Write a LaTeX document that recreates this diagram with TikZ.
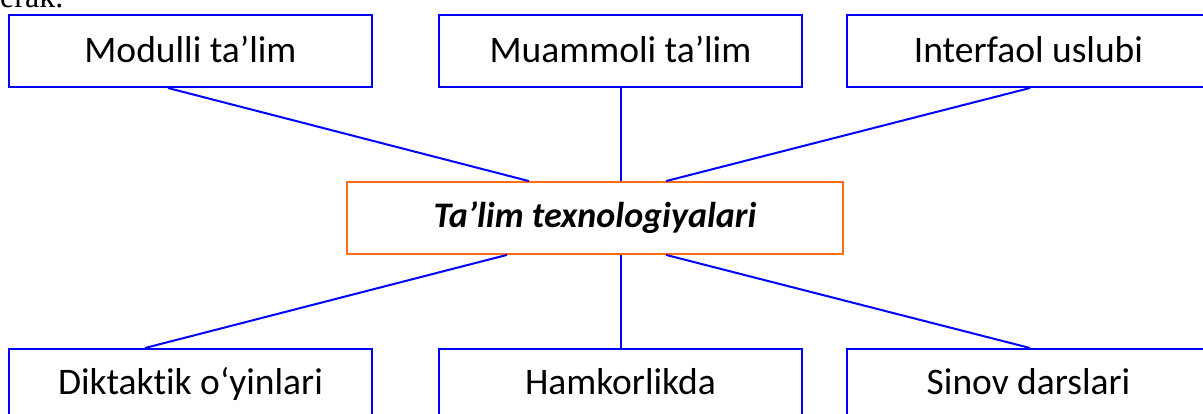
\documentclass[tikz,border=0pt]{standalone}
\usepackage{fontspec}
\setmainfont{Carlito}[Ligatures=NoCommon]
\newfontfamily\serifpage{Liberation Serif}
\usetikzlibrary{calc}
\definecolor{boxblue}{RGB}{0,0,255}
\definecolor{boxorange}{RGB}{255,110,20}
\tikzset{
  itembox/.style={draw=boxblue, line width=2pt, minimum width=363pt, minimum height=72pt,
    inner sep=0pt, font=\fontsize{37.5}{44}\selectfont, text=black,
    text height=25pt, text depth=1pt},
  lowbox/.style={itembox, text height=24pt, text depth=6pt},
  centerbox/.style={draw=boxorange, line width=1.8pt, minimum width=496pt, minimum height=72pt,
    inner sep=0pt, font=\fontsize{36}{43}\selectfont\bfseries\itshape, text=black,
    text height=24pt, text depth=4pt},
  link/.style={draw=boxblue, line width=2pt}
}
\begin{document}
\begin{tikzpicture}[x=1pt,y=-1pt]
\useasboundingbox (0,0) rectangle (1203,414);
\clip (0,0) rectangle (1203,414);
\fill[white] (0,0) rectangle (1203,414);
\node[anchor=base west, font=\serifpage\fontsize{32}{38}\selectfont, inner sep=0pt] (prev) at (-16,8) {kerak.};
% top row
\node[itembox] (m1) at (190.5,51) {Modulli ta’lim};
\node[itembox] (m2) at (620.5,51) {Muammoli ta’lim};
\node[itembox] (m3) at (1028.5,51) {Interfaol uslubi};
% centre
\node[centerbox] (c) at (595,218) {Ta’lim texnologiyalari};
% bottom row
\node[lowbox] (b1) at (190.5,385) {Diktaktik o‘yinlari};
\node[lowbox] (b2) at (620.5,385) {Hamkorlikda};
\node[lowbox] (b3) at (1028.5,385) {Sinov darslari};
% connectors
\draw[link] ($(m1.south)+(-22.5,0)$) -- ($(c.north)+(-66,0)$);
\draw[link] (m2.south) -- (m2.south |- c.north);
\draw[link] ($(m3.south)+(1.5,0)$) -- ($(c.north)+(71,0)$);
\draw[link] ($(c.south)+(-88,0)$) -- ($(b1.north)+(-45.5,0)$);
\draw[link] (c.south -| b2.north) -- (b2.north);
\draw[link] ($(c.south)+(71,0)$) -- ($(b3.north)+(1.5,0)$);
\end{tikzpicture}
\end{document}
